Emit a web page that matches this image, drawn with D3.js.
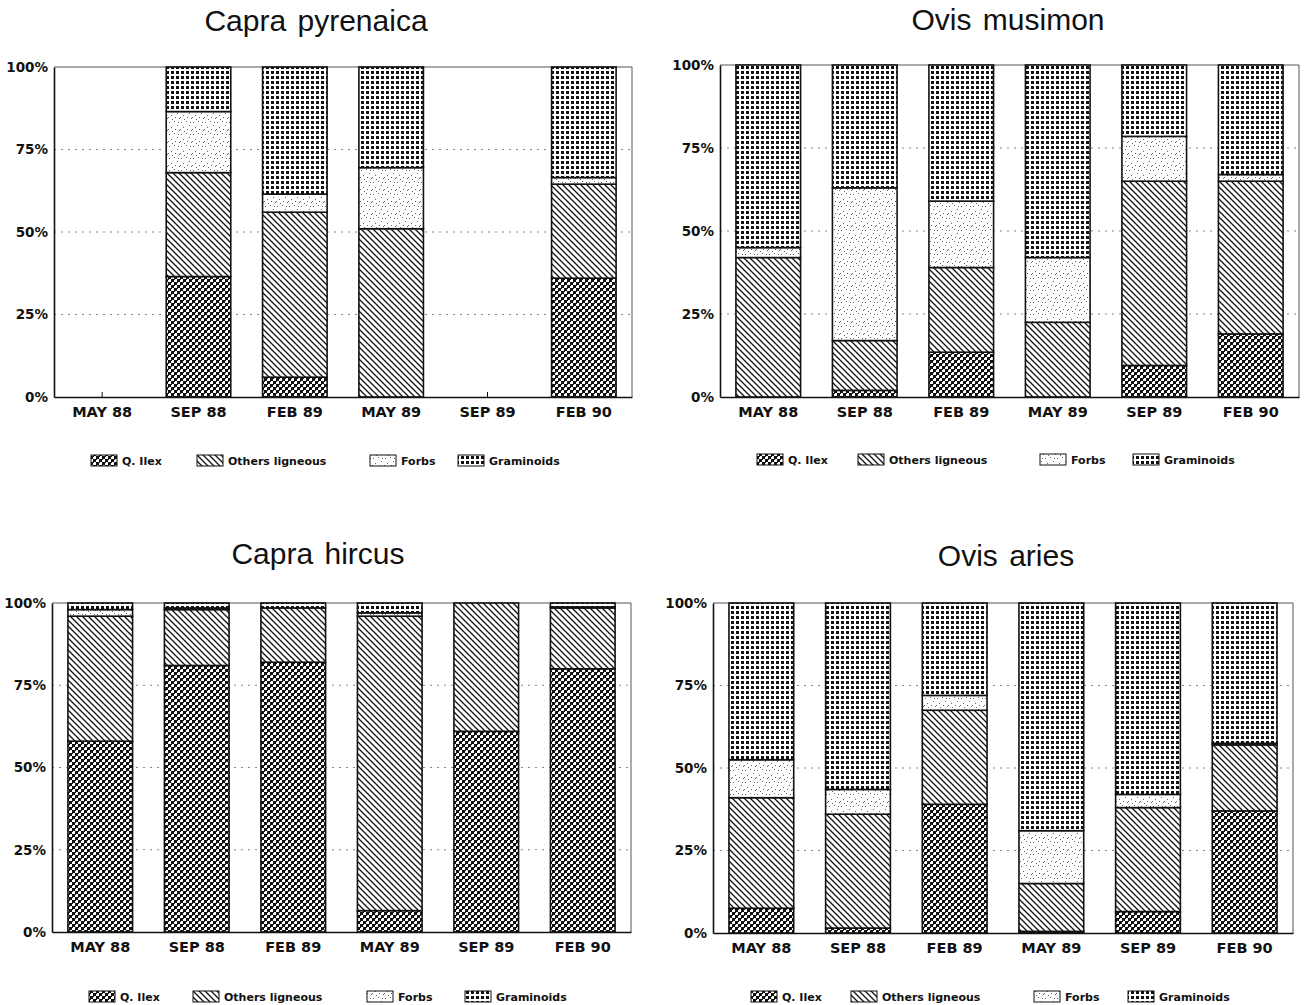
<!DOCTYPE html>
<html><head><meta charset="utf-8">
<script src="https://cdn.jsdelivr.net/npm/d3@7"></script>
<style>
html,body{margin:0;padding:0;background:#fff;}
svg{display:block;}
</style></head>
<body>
<svg id="chart" width="1307" height="1005"></svg>
<script>
const categories = ["MAY 88","SEP 88","FEB 89","MAY 89","SEP 89","FEB 90"];
const seriesNames = ["Q. Ilex","Others ligneous","Forbs","Graminoids"];
const yTicks = [0,25,50,75,100];
const yTickLabels = ["0%","25%","50%","75%","100%"];

// values per series (rows: Q. Ilex, Others ligneous, Forbs, Graminoids), columns follow categories
const capraPyrenaica = [
  [0, 36.5, 6, 0, 0, 36],
  [0, 31.5, 50, 51, 0, 28.5],
  [0, 18.5, 5.5, 18.5, 0, 2],
  [0, 13.5, 38.5, 30.5, 0, 33.5]
];
const ovisMusimon = [
  [0, 2, 13.5, 0, 9.5, 19],
  [42, 15, 25.5, 22.5, 55.5, 46],
  [3, 46, 20, 19.5, 13.5, 2],
  [55, 37, 41, 58, 21.5, 33]
];
const capraHircus = [
  [58, 81, 82, 6.5, 61, 80],
  [38, 17, 16.5, 89.5, 39, 18.5],
  [2, 0.5, 0, 1, 0, 0.3],
  [2, 1.5, 1.5, 3, 0, 1.2]
];
const ovisAries = [
  [7.5, 1.5, 39, 0.5, 6.5, 37],
  [33.5, 34.5, 28.5, 14.5, 31.5, 20],
  [11.5, 7.5, 4.5, 16, 4, 0.5],
  [47.5, 56.5, 28, 69, 58, 42.5]
];
const panelTitles = ["Capra pyrenaica","Ovis musimon","Capra hircus","Ovis aries"];
const panelValues = [capraPyrenaica, ovisMusimon, capraHircus, ovisAries];

// layout
const layouts = [
  {x0:54, x1:632, yTop:67, yBot:397, titleX:316, titleY:31, legY:461, legX:[91,197,370,458]},
  {x0:720, x1:1299, yTop:65, yBot:397, titleX:1008, titleY:30, legY:460, legX:[757,858,1040,1133]},
  {x0:52, x1:631, yTop:603, yBot:932, titleX:318, titleY:564, legY:997, legX:[89,193,367,465]},
  {x0:713, x1:1293, yTop:603, yBot:933, titleX:1006, titleY:566, legY:997, legX:[751,851,1034,1128]}
];

const svg = d3.select("#chart");
const defs = svg.append("defs");

// Q. Ilex: dense diagonal checker
const pQ = defs.append("pattern").attr("id","pQ").attr("patternUnits","userSpaceOnUse").attr("width",6).attr("height",6);
pQ.append("rect").attr("width",6).attr("height",6).attr("fill","#fff");
pQ.append("rect").attr("x",0).attr("y",0).attr("width",3).attr("height",3).attr("fill","#111");
pQ.append("rect").attr("x",3).attr("y",3).attr("width",3).attr("height",3).attr("fill","#111");
pQ.append("rect").attr("x",3).attr("y",0).attr("width",1).attr("height",1).attr("fill","#222");
pQ.append("rect").attr("x",0).attr("y",3).attr("width",1).attr("height",1).attr("fill","#222");
// Others ligneous: diagonal "\" lines
const pO = defs.append("pattern").attr("id","pO").attr("patternUnits","userSpaceOnUse").attr("width",6).attr("height",6);
pO.append("rect").attr("width",6).attr("height",6).attr("fill","#fff");
pO.append("path").attr("d","M-1,-1 L7,7 M-1,5 L1,7 M5,-1 L7,1").attr("stroke","#111").attr("stroke-width",1.3);
// Forbs: sparse stipple
const pF = defs.append("pattern").attr("id","pF").attr("patternUnits","userSpaceOnUse").attr("width",12).attr("height",12);
pF.append("rect").attr("width",12).attr("height",12).attr("fill","#fff");
[[1,2],[6,1],[9,5],[3,7],[7,9],[11,10],[4,11],[10,2],[0,9]].forEach(d=>{
  pF.append("rect").attr("x",d[0]).attr("y",d[1]).attr("width",1).attr("height",1).attr("fill","#666");
});
// Graminoids: bold dot grid
const pG = defs.append("pattern").attr("id","pG").attr("patternUnits","userSpaceOnUse").attr("width",5).attr("height",5);
pG.append("rect").attr("width",5).attr("height",5).attr("fill","#fff");
pG.append("rect").attr("x",1).attr("y",1).attr("width",3).attr("height",3).attr("fill","#111");

const fills = ["url(#pQ)","url(#pO)","url(#pF)","url(#pG)"];

panelValues.forEach((vals, pi) => {
  const L = layouts[pi];
  const g = svg.append("g");
  const x = d3.scaleBand().domain(categories).range([L.x0, L.x1]).paddingInner(0.33).paddingOuter(0.165);
  const y = d3.scaleLinear().domain([0,100]).range([L.yBot, L.yTop]);

  // title
  g.append("text").attr("x",L.titleX).attr("y",L.titleY).attr("text-anchor","middle")
    .attr("font-family","Liberation Sans, Arial, sans-serif").attr("font-size",30).attr("word-spacing",3).attr("fill","#111")
    .text(panelTitles[pi]);

  // grid lines
  g.selectAll(".grid").data([25,50,75]).enter().append("line")
    .attr("x1",L.x0).attr("x2",L.x1).attr("y1",d=>y(d)).attr("y2",d=>y(d))
    .attr("stroke","#888").attr("stroke-width",1).attr("stroke-dasharray","2,5");

  // frame (top & right)
  g.append("path").attr("d",`M${L.x0},${y(100)} L${L.x1},${y(100)} L${L.x1},${y(0)}`)
    .attr("fill","none").attr("stroke","#555").attr("stroke-width",1);

  // small category ticks
  g.selectAll(".ctick").data(categories).enter().append("line")
    .attr("x1",d=>x(d)+x.bandwidth()/2).attr("x2",d=>x(d)+x.bandwidth()/2)
    .attr("y1",y(0)).attr("y2",y(0)-5).attr("stroke","#111");

  // stacked bars
  const stacked = categories.map((c,ci)=>{
    let acc=0; return vals.map((row,si)=>{ const v=row[ci]; const s={cat:c,si:si,y0:acc,y1:acc+v}; acc+=v; return s;});
  }).flat().filter(d=>d.y1-d.y0>0);
  g.selectAll(".seg").data(stacked).enter().append("rect")
    .attr("x",d=>x(d.cat)).attr("width",x.bandwidth())
    .attr("y",d=>y(d.y1)).attr("height",d=>y(d.y0)-y(d.y1))
    .attr("fill",d=>fills[d.si]).attr("stroke","#111").attr("stroke-width",1.6);

  // axes
  const yAxis = d3.axisLeft(y).tickValues(yTicks).tickFormat((d,i)=>yTickLabels[i]).tickSize(0).tickPadding(6);
  const ya = g.append("g").attr("transform",`translate(${L.x0},0)`).call(yAxis);
  ya.select(".domain").attr("stroke","#111").attr("stroke-width",1.6);
  ya.selectAll("text").attr("font-family","DejaVu Sans, sans-serif").attr("font-weight","bold").attr("font-size",13.5).attr("fill","#111");

  const xAxis = d3.axisBottom(x).tickSize(0).tickPadding(10);
  const xa = g.append("g").attr("transform",`translate(0,${L.yBot})`).call(xAxis);
  xa.select(".domain").attr("stroke","#111").attr("stroke-width",1.6);
  xa.selectAll("text").attr("font-family","DejaVu Sans, sans-serif").attr("font-weight","bold").attr("font-size",14.5).attr("fill","#111");

  // legend
  seriesNames.forEach((nm,si)=>{
    const lx = L.legX[si];
    g.append("rect").attr("x",lx).attr("y",L.legY-6).attr("width",26).attr("height",11)
      .attr("fill",fills[si]).attr("stroke","#111").attr("stroke-width",1);
    g.append("text").attr("x",lx+31).attr("y",L.legY+4)
      .attr("font-family","DejaVu Sans, sans-serif").attr("font-weight","bold").attr("font-size",11).attr("fill","#111")
      .text(nm);
  });
});
</script>
</body></html>
